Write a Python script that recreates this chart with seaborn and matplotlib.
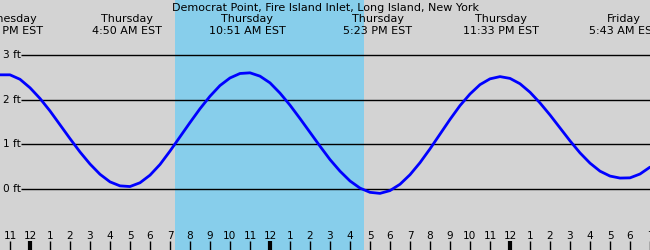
import numpy as np
import pandas as pd
import matplotlib
matplotlib.use("Agg")
import matplotlib.pyplot as plt
import matplotlib.transforms as mtransforms
import seaborn as sns

# ---------------- data ----------------
title = "Democrat Point, Fire Island Inlet, Long Island, New York"

# hours relative to Thursday 00:00 EST, sampled every half hour
hours = np.arange(-1.5, 31.01, 0.5)
level_ft = [
    2.56, 2.56, 2.46, 2.27, 2.03, 1.75, 1.44, 1.13, 0.83, 0.56,
    0.33, 0.16, 0.07, 0.055, 0.14, 0.31, 0.55, 0.85, 1.17, 1.49,
    1.80, 2.08, 2.32, 2.49, 2.59, 2.605, 2.53, 2.38, 2.15, 1.88,
    1.58, 1.27, 0.96, 0.66, 0.40, 0.18, 0.02, -0.075, -0.098, -0.036,
    0.106, 0.32, 0.59, 0.90, 1.23, 1.56, 1.87, 2.13, 2.34, 2.47,
    2.52, 2.48, 2.36, 2.17, 1.93, 1.66, 1.37, 1.08, 0.81, 0.58,
    0.40, 0.29, 0.245, 0.25, 0.336, 0.49,
]

event_hour = [-1.25, 4.833, 10.85, 17.383, 23.55, 29.717]
event_day = ["Wednesday", "Thursday", "Thursday", "Thursday", "Thursday", "Friday"]
event_time = ["10:45 PM EST", "4:50 AM EST", "10:51 AM EST", "5:23 PM EST",
              "11:33 PM EST", "5:43 AM EST"]

daylight = (7.25, 16.7)          # sunrise / sunset (hours)
grid_levels = [0, 1, 2, 3]
grid_labels = ["0 ft", "1 ft", "2 ft", "3 ft"]

tick_hours = list(range(-1, 32))
tick_labels = [str((h % 12) or 12) for h in tick_hours]

# ---------------- plot ----------------
sns.set_theme(style="white")
plt.rcParams["font.family"] = ["DejaVu Sans"]
plt.rcParams["text.color"] = "black"
plt.rcParams["xtick.color"] = "black"
plt.rcParams["xtick.labelcolor"] = "black"

fig = plt.figure(figsize=(6.5, 2.5), dpi=100)
ax = fig.add_axes([0, 0, 1, 1])
ax.set_facecolor("#d3d3d3")
for s in ax.spines.values():
    s.set_visible(False)

ax.set_xlim(-1.5, 31.0)
ax.set_ylim(-1.368, 4.238)

ax.axvspan(daylight[0], daylight[1], color="#87ceeb", zorder=0, lw=0)

ax.hlines(grid_levels, xmin=-0.45, xmax=31.0, colors="black", lw=1.0, zorder=1)
for lv, lb in zip(grid_levels, grid_labels):
    ax.text(-1.36, lv, lb, ha="left", va="center", fontsize=7.6, color="black")

df = pd.DataFrame({"hour": hours, "level": level_ft})
sns.lineplot(data=df, x="hour", y="level", ax=ax, color="#0000ff", lw=2.0,
             sort=False, zorder=3)
ax.set_xlabel("")
ax.set_ylabel("")
ax.set_yticks([])

ax.set_xticks(tick_hours)
ax.set_xticklabels(tick_labels, fontsize=7.6, color="black")
ax.tick_params(axis="x", direction="in", length=6.5, width=1, color="black",
               pad=-14, bottom=True, labelbottom=True)
for t, lb in zip(ax.xaxis.get_major_ticks(), tick_labels):
    if lb == "12":
        t.tick1line.set_markeredgewidth(3)

trans = mtransforms.blended_transform_factory(ax.transData, ax.transAxes)
ax.text(0.5, 1 - 8 / 250, title, transform=ax.transAxes, ha="center",
        va="center", fontsize=8, color="black")
for eh, ed, et in zip(event_hour, event_day, event_time):
    ax.text(eh, 1 - 19.5 / 250, ed, transform=trans, ha="center", va="center",
            fontsize=8, color="black")
    ax.text(eh, 1 - 31.5 / 250, et, transform=trans, ha="center", va="center",
            fontsize=8, color="black")

fig.savefig("out.png", dpi=100)
